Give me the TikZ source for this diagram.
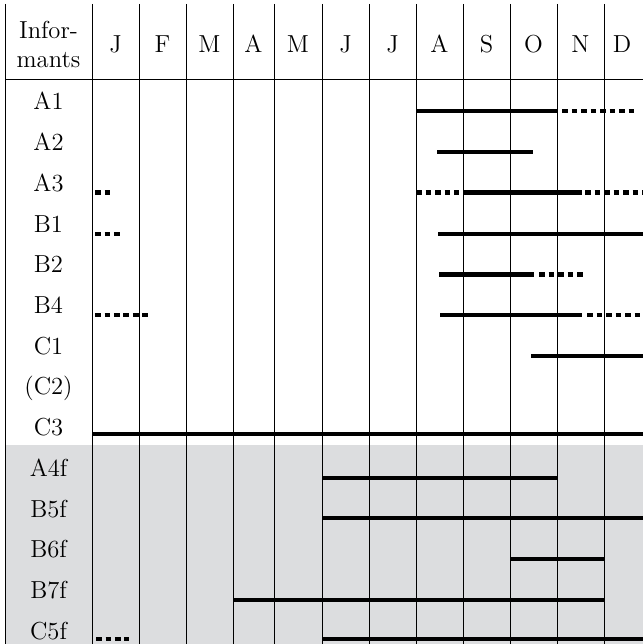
\documentclass[tikz,border=0pt]{standalone}
\definecolor{bandgray}{RGB}{220,221,223}
\begin{document}
\begin{tikzpicture}[x=0.02cm,y=-0.02cm,
    every node/.style={font=\fontsize{14}{16.4}\selectfont,inner sep=0pt},
    rule/.style={line width=0.45pt},
    bar/.style={line width=0.088cm},
    dotbar/.style={line width=0.088cm,dash pattern=on 0.114cm off 0.076cm}]
    \useasboundingbox (0,0) rectangle (643,644);
    %% shaded band and grid
    \fill[bandgray] (5,445) rectangle (643,644);
    \foreach \x in {5,92,139,186,233,274,322,369,416,463,510,557,604}
        \draw[rule] (\x,4) -- (\x,644);
    \draw[rule] (5,79) -- (643,79);
    %% header
    \node[align=center] (head) at (48.5,44.5) {Infor-\\mants};
    \foreach \m/\x [count=\i] in {J/115.5,F/162.5,M/209.5,A/253.5,M/298,J/345.5,J/392.5,A/439.5,S/486.5,O/533.5,N/580.5,D/622}
        \node[anchor=base] (month\i) at (\x,53) {\m};
    %% informants
    \foreach \r [count=\i] in {A1,A2,A3,B1,B2,B4,C1,{(C2)},C3,A4f,B5f,B6f,B7f,C5f}
        \node[anchor=base] (row\i) at (48.5,{110+40.7*(\i-1)}) {\r};
    %% periods (solid and dotted)
    \draw[bar] (416,111) -- (557,111);
    \draw[dotbar] (562,111) -- (634,111);
    \draw[bar] (437,152.3) -- (533,152.3);
    \draw[dotbar] (95,192.7) -- (110,192.7);
    \draw[dotbar] (416,192.7) -- (459,192.7);
    \draw[bar] (463,192.7) -- (582,192.7);
    \draw[dotbar] (585,192.7) -- (643,192.7);
    \draw[dotbar] (95,234) -- (120,234);
    \draw[bar] (438,234) -- (643,234);
    \draw[bar] (439,274.7) -- (534,274.7);
    \draw[dotbar] (539,274.7) -- (583,274.7);
    \draw[dotbar] (95,315) -- (149,315);
    \draw[bar] (440,315) -- (582,315);
    \draw[dotbar] (587,315) -- (641,315);
    \draw[bar] (531,355.7) -- (643,355.7);
    \draw[bar] (92,434) -- (643,434);
    \draw[bar] (322,477.7) -- (557,477.7);
    \draw[bar] (322,518) -- (643,518);
    \draw[bar] (510,559) -- (604,559);
    \draw[bar] (234,600) -- (604,600);
    \draw[dotbar] (96,639) -- (129,639);
    \draw[bar] (322,639) -- (643,639);
\end{tikzpicture}
\end{document}
